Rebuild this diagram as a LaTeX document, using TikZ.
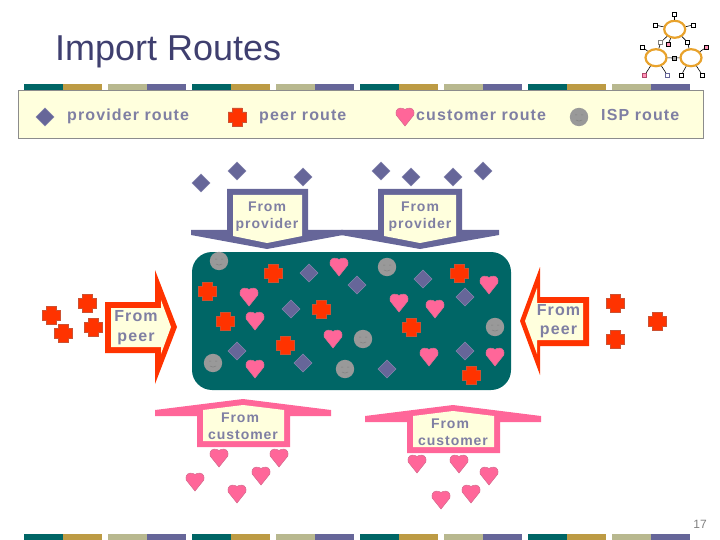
\documentclass[tikz,border=0pt]{standalone}
\usepackage{fontspec}
\setmainfont{Liberation Sans}
\newfontfamily\lblfont[LetterSpace=7]{Liberation Sans Bold}
\usetikzlibrary{shapes.geometric}

\definecolor{tealbar}{HTML}{006666}
\definecolor{goldbar}{HTML}{BD9B44}
\definecolor{sagebar}{HTML}{B8B88F}
\definecolor{purplebar}{HTML}{666699}
\definecolor{creambox}{HTML}{FFFFDD}
\definecolor{lbltext}{HTML}{7F7FA3}
\definecolor{peerred}{HTML}{FF3300}
\definecolor{custpink}{HTML}{FF6699}
\definecolor{ispgrey}{HTML}{999999}
\definecolor{titleblue}{HTML}{3F3F6F}
\definecolor{ringorange}{HTML}{E8A22C}

\tikzset{
  lbl/.style={text=lbltext, font=\lblfont\fontsize{#1}{#1}\selectfont, inner sep=0pt, align=center},
  lbl/.default=14,
  provrt/.pic={\fill[purplebar, draw=purplebar!80!white, line width=.6pt] (-9,0) -- (0,-9) -- (9,0) -- (0,9) -- cycle;},
  peerrt/.pic={\fill[peerred, draw=peerred!60!gray, line width=.6pt]
    (-5,-9) -- (5,-9) -- (5,-5) -- (9,-5) -- (9,5) -- (5,5) -- (5,9) -- (-5,9) -- (-5,5) -- (-9,5) -- (-9,-5) -- (-5,-5) -- cycle;},
  custrt/.pic={\fill[custpink, draw=custpink!70!gray, line width=.6pt]
    (0,9) -- (-8.8,-2) .. controls (-9.5,-5) and (-8.5,-8.5) .. (-5,-8.8) .. controls (-3,-9) and (-1,-8.5) .. (0,-7.5)
    .. controls (1,-8.5) and (3,-9) .. (5,-8.8) .. controls (8.5,-8.5) and (9.5,-5) .. (8.8,-2) -- cycle;},
  isprt/.pic={\fill[ispgrey] (0,0) circle (9.2);
    \draw[gray, line width=.5pt] (-4,-2) -- (-2,-2) (2,-2) -- (4,-2) (-3,3) .. controls (-1,4.5) and (1,4.5) .. (3,3);},
  logopt/.style={draw=black, fill=white, line width=.5pt, minimum size=4pt, inner sep=0pt},
  logoring/.style={ellipse, draw=ringorange, line width=2.2pt, minimum width=21pt, minimum height=17pt, inner sep=0pt},
  logoln/.style={line width=.6pt}
}

\begin{document}
\begin{tikzpicture}[x=1pt, y=-1pt]
  \useasboundingbox (0,0) rectangle (720,540);

  % title and page number
  \node[anchor=base west, text=titleblue, font=\fontsize{36}{36}\selectfont, inner sep=0pt] (title) at (55,61) {Import Routes};
  \node[text=gray, font=\fontsize{12}{12}\selectfont, inner sep=0pt] (pageno) at (700,524) {17};

  % bars
  \foreach \bx in {24,192,360,528} {
    \foreach \by in {84,534} {
      \fill[tealbar] (\bx,\by) rectangle +(39,6);
      \fill[goldbar] (\bx+39,\by) rectangle +(39,6);
      \fill[sagebar] (\bx+84,\by) rectangle +(39,6);
      \fill[purplebar] (\bx+123,\by) rectangle +(39,6);
    }
  }

  % legend
  \draw[fill=creambox, draw=gray!90, line width=.8pt] (18.5,90.5) rectangle (703,138);
  \pic at (45,117) {provrt};
  \pic at (237,117) {peerrt};
  \pic at (405,117) {custrt};
  \pic at (579,117) {isprt};
  \node[lbl=16, anchor=base west] (legprov) at (67,120.5) {provider route};
  \node[lbl=16, anchor=base west] (legpeer) at (259,120.5) {peer route};
  \node[lbl=16, anchor=base west] (legcust) at (416,120.5) {customer route};
  \node[lbl=16, anchor=base west] (legisp) at (601,120.5) {ISP route};

  % table
  \fill[tealbar, rounded corners=20] (192,252) rectangle (511,390);

  % callouts, from the top
  \fill[purplebar] (227,189) -- (308,189) -- (308,230) -- (343,230) -- (343,235) -- (267,249) -- (191,235) -- (191,230) -- (227,230) -- cycle;
  \fill[creambox] (233,195) -- (302,195) -- (302,236) -- (267,243) -- (233,236) -- cycle;
  \fill[purplebar] (378,189) -- (462,189) -- (462,230) -- (499,230) -- (499,235) -- (420,249) -- (341,235) -- (341,230) -- (378,230) -- cycle;
  \fill[creambox] (384,195) -- (456,195) -- (456,236) -- (420,243) -- (384,236) -- cycle;
  \node[lbl] (prova) at (267,216.5) {From\\[3pt]provider};
  \node[lbl] (provb) at (420,216.5) {From\\[3pt]provider};

  % callouts, sideways
  \fill[peerred] (105,302) -- (155,302) -- (155,270) -- (177,327) -- (155,384) -- (155,353) -- (105,353) -- cycle;
  \fill[creambox] (111,308) -- (161,308) -- (161,300) -- (171,327) -- (161,354) -- (161,347) -- (111,347) -- cycle;
  \node[lbl=16] (peera) at (136,327.5) {From\\[4pt]peer};
  \fill[peerred] (589,297) -- (540,297) -- (540,267) -- (520,321) -- (540,375) -- (540,346) -- (589,346) -- cycle;
  \fill[creambox] (583,303) -- (537,303) -- (537,288) -- (525,321) -- (537,354) -- (537,340) -- (583,340) -- cycle;
  \node[lbl=16] (peerb) at (558.5,321) {From\\[3pt]peer};

  % callouts, from the bottom
  \fill[custpink] (243,399) -- (331,410) -- (331,416) -- (290,416) -- (290,447) -- (197,447) -- (197,416) -- (155,416) -- (155,410) -- cycle;
  \fill[creambox] (243,405) -- (284,410) -- (284,441) -- (203,441) -- (203,410) -- cycle;
  \node[lbl] (custa) at (243,426) {From\hspace*{6pt}\\[3pt]customer};
  \fill[custpink] (453,405) -- (541,416) -- (541,422) -- (500,422) -- (500,453) -- (407,453) -- (407,422) -- (365,422) -- (365,416) -- cycle;
  \fill[creambox] (453,411) -- (494,416) -- (494,447) -- (413,447) -- (413,416) -- cycle;
  \node[lbl] (custb) at (453,432) {From\hspace*{6pt}\\[3pt]customer};

  % routes
  \foreach \rx/\ry in {201/183,237/171,303/177,381/171,411/177,453/177,483/171,
      309/273,291/309,237/351,303/363,357/285,423/279,465/297,465/351,387/369}
    \pic at (\rx,\ry) {provrt};
  \foreach \rx/\ry in {51/315,63/333,87/303,93/327,615/303,615/339,657/321,
      273/273,207/291,225/321,285/345,321/309,459/273,411/327,471/375}
    \pic at (\rx,\ry) {peerrt};
  \foreach \rx/\ry in {219/458,279/458,195/482,261/476,237/494,417/464,459/464,489/476,441/500,471/494,
      249/297,255/321,255/369,339/267,489/285,399/303,435/309,333/339,429/357,495/357}
    \pic at (\rx,\ry) {custrt};
  \foreach \rx/\ry in {219/261,213/363,387/267,495/327,363/339,345/369}
    \pic at (\rx,\ry) {isprt};

  % logo
  \node[logoring] (ringt) at (674.7,29.3) {};
  \node[logoring] (ringl) at (656,57.7) {};
  \node[logoring] (ringr) at (691,57.7) {};
  \node[logopt] (pa) at (674.7,14.3) {};
  \node[logopt] (pb) at (655,25) {};
  \node[logopt] (pc) at (693,25) {};
  \node[logopt, draw=gray] (pd) at (660.7,42.3) {};
  \node[logopt, fill=custpink!70] (pe) at (668,44.3) {};
  \node[logopt] (pf) at (687.7,42.3) {};
  \node[logopt] (pg) at (642.7,47.3) {};
  \node[logopt, fill=custpink!70] (ph) at (706.3,47.3) {};
  \node[logopt, fill=gray!60] (pi) at (674.3,58) {};
  \node[logopt, draw=custpink!70!black, fill=custpink!70] (pj) at (644.7,75) {};
  \node[logopt, draw=purplebar, fill=white] (pk) at (667.3,75) {};
  \node[logopt] (pl) at (681.3,75) {};
  \node[logopt] (pm) at (702.3,75) {};
  \foreach \pp/\rr in {pa/ringt,pb/ringt,pc/ringt,pd/ringt,pe/ringt,pf/ringt,pf/ringr,pd/ringl,pg/ringl,pi/ringl,pi/ringr,ph/ringr,pj/ringl,pk/ringl,pl/ringr,pm/ringr}
    \draw[logoln] (\pp) -- (\rr);
\end{tikzpicture}
\end{document}
